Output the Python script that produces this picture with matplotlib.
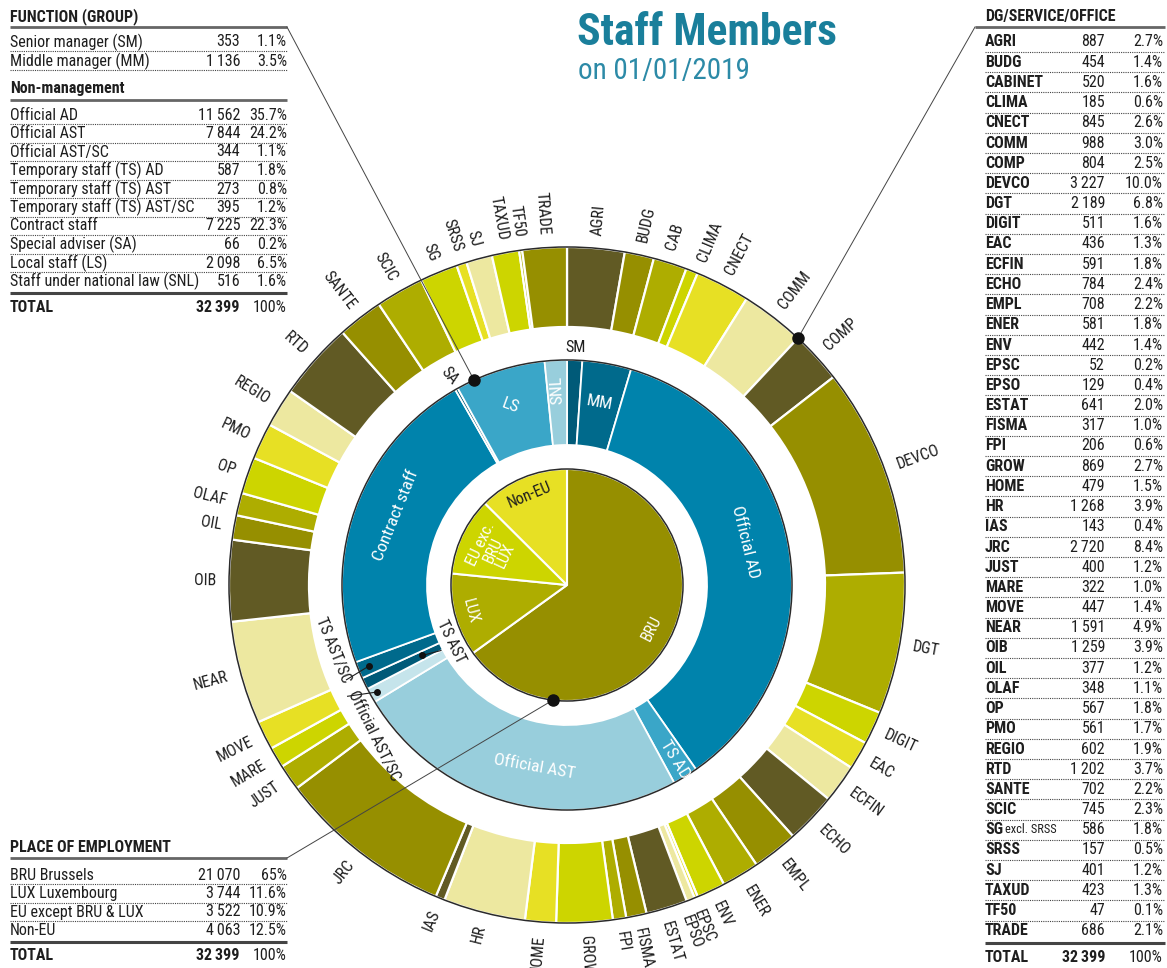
import numpy as np
import matplotlib.pyplot as plt
from matplotlib import font_manager as fm
from matplotlib.patches import Circle

# pick a narrow face if one is installed, the reference uses a condensed sans
fonts = fm.fontManager.ttflist
names = {f.name for f in fonts}
family, stretch = None, 'normal'
for n in ['Liberation Sans Narrow', 'Roboto Condensed', 'Open Sans Condensed', 'Noto Sans Condensed',
          'Arial Narrow']:
    if n in names:
        family = n
        break
if family is None:
    for n in ['DejaVu Sans', 'Noto Sans', 'Open Sans', 'Roboto', 'Liberation Sans']:
        if any(f.name == n and str(f.stretch) in ('condensed', 'semi-condensed', '75', '87.5')
               for f in fonts):
            family, stretch = n, 'condensed'
            break
if family is None:
    family = 'Liberation Sans' if 'Liberation Sans' in names else 'DejaVu Sans'
plt.rcParams['font.family'] = [family, 'DejaVu Sans']
plt.rcParams['font.stretch'] = stretch

W, H = 1167, 968

# place of employment (inner pie)
place_names = ['BRU Brussels', 'LUX Luxembourg', 'EU except BRU & LUX', 'Non-EU']
place_short = ['BRU', 'LUX', 'EU exc.\nBRU\nLUX', 'Non-EU']
place_values = [21070, 3744, 3522, 4063]

# function group (middle ring), table order
function_names = ['Senior manager (SM)', 'Middle manager (MM)', 'Official AD', 'Official AST',
                  'Official AST/SC', 'Temporary staff (TS) AD', 'Temporary staff (TS) AST',
                  'Temporary staff (TS) AST/SC', 'Contract staff', 'Special adviser (SA)',
                  'Local staff (LS)', 'Staff under national law (SNL)']
function_short = ['SM', 'MM', 'Official AD', 'Official AST', 'Official AST/SC', 'TS AD', 'TS AST',
                  'TS AST/SC', 'Contract staff', 'SA', 'LS', 'SNL']
function_values = [353, 1136, 11562, 7844, 344, 587, 273, 395, 7225, 66, 2098, 516]
ring_order = [0, 1, 2, 5, 3, 4, 6, 7, 8, 9, 10, 11]

# DG / service / office (outer ring)
dg_names = ['AGRI', 'BUDG', 'CABINET', 'CLIMA', 'CNECT', 'COMM', 'COMP', 'DEVCO', 'DGT', 'DIGIT',
            'EAC', 'ECFIN', 'ECHO', 'EMPL', 'ENER', 'ENV', 'EPSC', 'EPSO', 'ESTAT', 'FISMA', 'FPI',
            'GROW', 'HOME', 'HR', 'IAS', 'JRC', 'JUST', 'MARE', 'MOVE', 'NEAR', 'OIB', 'OIL', 'OLAF',
            'OP', 'PMO', 'REGIO', 'RTD', 'SANTE', 'SCIC', 'SG excl. SRSS', 'SRSS', 'SJ', 'TAXUD',
            'TF50', 'TRADE']
dg_values = [887, 454, 520, 185, 845, 988, 804, 3227, 2189, 511, 436, 591, 784, 708, 581, 442, 52,
             129, 641, 317, 206, 869, 479, 1268, 143, 2720, 400, 322, 447, 1591, 1259, 377, 348,
             567, 561, 602, 1202, 702, 745, 586, 157, 401, 423, 47, 686]
total = 32399

olives = ['#615a24', '#968f00', '#aead00', '#cdd500', '#e7e024', '#ede8a0']
dg_colors = [olives[i % 6] for i in range(len(dg_names))]
dg_colors[42], dg_colors[43], dg_colors[44] = olives[3], olives[2], olives[1]
fn_colors = ['#005a78', '#006a8c', '#0083ac', '#98cedc', '#c5e4eb', '#3aa6c8', '#005a78',
             '#006a8c', '#0083ac', '#005a78', '#3aa6c8', '#98cedc']
place_colors = ['#968f00', '#aead00', '#cdd500', '#e7e024']
teal = '#1a7f9b'
ink = '#1e1e1e'

cx, cy = 567, H - 585


def Y(y):
    return H - y


def P(ang, r):
    a = np.deg2rad(ang)
    return cx + r * np.cos(a), cy + r * np.sin(a)


def mids(vals):
    v = np.array(vals, dtype=float)
    c = np.cumsum(v)
    return 90 - 360 * (c - v / 2) / v.sum(), 90 - 360 * c / v.sum()


def fmt(n):
    return f'{n:,}'.replace(',', '\u2009')


def pct(n):
    s = f'{100 * n / total:.1f}'
    return (s[:-2] if s.endswith('.0') and n > 10000 else s) + '%'


fig = plt.figure(figsize=(W / 100, H / 100), dpi=100)
ax = fig.add_axes([0, 0, 1, 1])

# scale font sizes so the text runs as wide as the reference
probe = fig.text(0, 0, 'Senior manager (SM)', fontsize=11)
w = probe.get_window_extent(renderer=fig.canvas.get_renderer()).width
probe.remove()
k = min(1.05, max(0.72, 137 / w))


def fs(s):
    return s * k


ax.pie(dg_values, colors=dg_colors, radius=338, center=(cx, cy), startangle=90,
       counterclock=False, wedgeprops=dict(width=80, edgecolor='white', linewidth=1.6))
ring_vals = [function_values[i] for i in ring_order]
ax.pie(ring_vals, colors=[fn_colors[i] for i in ring_order], radius=225, center=(cx, cy),
       startangle=90, counterclock=False,
       wedgeprops=dict(width=85, edgecolor='white', linewidth=1.3))
ax.pie(place_values, colors=place_colors, radius=116, center=(cx, cy), startangle=90,
       counterclock=False, wedgeprops=dict(edgecolor='white', linewidth=1.5))
for r in (338, 225, 116):
    ax.add_patch(Circle((cx, cy), r, fill=False, ec='#2a2a2a', lw=1.1, zorder=3))
ax.set_xlim(0, W)
ax.set_ylim(0, H)
ax.set_aspect('auto')
ax.axis('off')

# outer ring labels
dg_short = {'CABINET': 'CAB', 'SG excl. SRSS': 'SG'}
dg_shift = {'CABINET': -0.6, 'CLIMA': 0.9, 'EPSC': 0.5, 'EPSO': 1.6, 'ESTAT': 0.8}
dg_mid, dg_end = mids(dg_values)
for name, a in zip(dg_names, dg_mid):
    a = a - dg_shift.get(name, 0)
    t = a % 360
    x, y = P(a, 351)
    if 90 < t < 270:
        rot, ha = t - 180, 'right'
    else:
        rot, ha = (t if t <= 90 else t - 360), 'left'
    ax.text(x, y, dg_short.get(name, name), rotation=rot, rotation_mode='anchor', ha=ha,
            va='center', fontsize=fs(11), color=ink)

# middle ring labels: radius, rotation, angle shift
fn_mid = dict(zip(ring_order, mids(ring_vals)[0]))
inside = {1: (185, -10, 0), 2: (183, None, 4.5), 5: (205, None, 0), 3: (185, None, 5),
          8: (185, None, -2), 10: (188, -20, 0), 11: (195, None, 0)}
for i, (r, rot, da) in inside.items():
    a = fn_mid[i] + da
    if rot is None:
        if i in (5, 11):
            rot = a - 180 if a > 90 else a % 360 - 360
        elif (a % 360) > 180:
            rot = a % 360 - 270
        else:
            rot = a - 90
    x, y = P(a, r)
    ax.text(x, y, function_short[i], rotation=rot, rotation_mode='anchor', ha='center',
            va='center', fontsize=fs(12), color='white')
x, y = P(fn_mid[0], 238)
ax.text(x, y, 'SM', ha='center', va='center', fontsize=fs(11), color=ink)
x, y = P(fn_mid[9], 240)
ax.text(x, y, 'SA', rotation=-50, rotation_mode='anchor', ha='center', va='center',
        fontsize=fs(11), color=ink)

# small leaders for the thin slices
a = fn_mid[6]
ax.plot(*zip(P(a, 161), P(a + 1.5, 142)), color=ink, lw=0.8, zorder=4)
ax.plot(*P(a, 161), 'o', color='#111111', ms=4, zorder=5)
x, y = P(a, 129)
ax.text(x, y, 'TS AST', rotation=a - 270, rotation_mode='anchor', ha='center', va='center',
        fontsize=fs(11), color=ink)
a = fn_mid[7]
ax.plot(*zip(P(a, 214), P(a + 1, 240)), color=ink, lw=0.8, zorder=4)
ax.plot(*P(a, 214), 'o', color='#111111', ms=4, zorder=5)
x, y = P(a + 1.5, 241)
ax.text(x, y, 'TS AST/SC', rotation=a - 270, rotation_mode='anchor', ha='right', va='center',
        fontsize=fs(11), color=ink)
a = fn_mid[4]
ax.plot(*zip(P(a, 218), P(a - 2.5, 246)), color=ink, lw=0.8, zorder=4)
ax.plot(*P(a, 218), 'o', color='#111111', ms=4, zorder=5)
x, y = P(a - 3, 240)
ax.text(x, y, 'Official AST/SC', rotation=a - 3 - 270, rotation_mode='anchor', ha='left',
        va='center', fontsize=fs(11), color=ink)

# inner pie labels
pl_mid = mids(place_values)[0]
pl_r = [95, 100, 82, 97]
for j, (lab, a) in enumerate(zip(place_short, pl_mid)):
    t = a % 360
    rot = t - 270 if t > 180 else t - 90
    x, y = P(a, pl_r[j])
    ax.text(x, y, lab, rotation=rot, rotation_mode='anchor', ha='center', va='center',
            fontsize=fs(11), linespacing=0.9, color=ink if j == 3 else 'white')

# title
ax.text(577, Y(33), 'Staff Members', fontsize=fs(30), weight='bold', color=teal, va='center')
ax.text(578, Y(71), 'on 01/01/2019', fontsize=fs(20), color='#2c8aa7', va='center')

dot = dict(ls=(0, (1, 1)), lw=0.8, color='#444444')
txt = dict(fontsize=fs(11), color=ink, va='center')


def rule(x0, x1, y, lw=2.0, color='#666666'):
    ax.plot([x0, x1], [Y(y), Y(y)], color=color, lw=lw, solid_capstyle='butt')


# function group table
rule(10, 287, 27)
ax.text(10, Y(17), 'FUNCTION (GROUP)', weight='bold', **txt)
rows = [42, 61] + [115 + 18.5 * j for j in range(10)]
for j, y in enumerate(rows):
    v = function_values[j]
    ax.text(10, Y(y), function_names[j], **txt)
    ax.text(240, Y(y), fmt(v), ha='right', **txt)
    ax.text(287, Y(y), pct(v), ha='right', **txt)
    if j not in (1, 11):
        ax.plot([10, 287], [Y(y + 9), Y(y + 9)], **dot)
ax.plot([10, 287], [Y(70), Y(70)], **dot)
ax.text(10, Y(89), 'Non-management', weight='bold', **txt)
rule(10, 287, 100)
rule(10, 287, 293, lw=2.2, color='#444444')
ax.text(10, Y(307), 'TOTAL', weight='bold', **txt)
ax.text(240, Y(307), fmt(total), ha='right', weight='bold', **txt)
ax.text(287, Y(307), '100%', ha='right', **txt)

# place of employment table
rule(10, 287, 858)
ax.text(10, Y(848), 'PLACE OF EMPLOYMENT', weight='bold', **txt)
for j, v in enumerate(place_values):
    y = 875 + 18.5 * j
    ax.text(10, Y(y), place_names[j], **txt)
    ax.text(240, Y(y), fmt(v), ha='right', **txt)
    ax.text(287, Y(y), pct(v), ha='right', **txt)
    if j < 3:
        ax.plot([10, 287], [Y(y + 9), Y(y + 9)], **dot)
rule(10, 287, 942, lw=2.2, color='#444444')
ax.text(10, Y(956), 'TOTAL', weight='bold', **txt)
ax.text(240, Y(956), fmt(total), ha='right', weight='bold', **txt)
ax.text(287, Y(956), '100%', ha='right', **txt)

# DG table
rule(975, 1165, 27)
ax.text(985, Y(17), 'DG/SERVICE/OFFICE', weight='bold', **txt)
for j, v in enumerate(dg_names):
    y = 42 + 20.2 * j
    if len(v) > 8:
        head, rest = v.split(' ', 1)
        ax.text(985, Y(y), head, weight='bold', fontsize=fs(11), color=ink, va='center')
        ax.text(1005, Y(y), rest, fontsize=fs(8.5), color=ink, va='center')
    else:
        ax.text(985, Y(y), v, weight='bold', fontsize=fs(11), color=ink, va='center')
    ax.text(1105, Y(y), fmt(dg_values[j]), ha='right', fontsize=fs(11), color=ink, va='center')
    ax.text(1163, Y(y), pct(dg_values[j]), ha='right', fontsize=fs(11), color=ink, va='center')
    if j < len(dg_names) - 1:
        ax.plot([985, 1165], [Y(y + 10), Y(y + 10)], **dot)
rule(985, 1165, 943, lw=2.2, color='#444444')
ax.text(985, Y(958), 'TOTAL', weight='bold', **txt)
ax.text(1105, Y(958), fmt(total), ha='right', weight='bold', **txt)
ax.text(1163, Y(958), '100%', ha='right', **txt)

# leader lines from the tables
lead = dict(color='#444444', lw=0.7, zorder=4)
p = P(114.4, 225)
ax.plot([287, p[0]], [Y(27), p[1]], **lead)
ax.plot(*p, 'o', color='#111111', ms=8, zorder=5)
p = P(dg_end[5], 338)
ax.plot([975, p[0]], [Y(27), p[1]], **lead)
ax.plot(*p, 'o', color='#111111', ms=8, zorder=5)
p = P(263, 116)
ax.plot([287, p[0]], [Y(858), p[1]], **lead)
ax.plot(*p, 'o', color='#111111', ms=8, zorder=5)

fig.savefig('out.png', dpi=100)
